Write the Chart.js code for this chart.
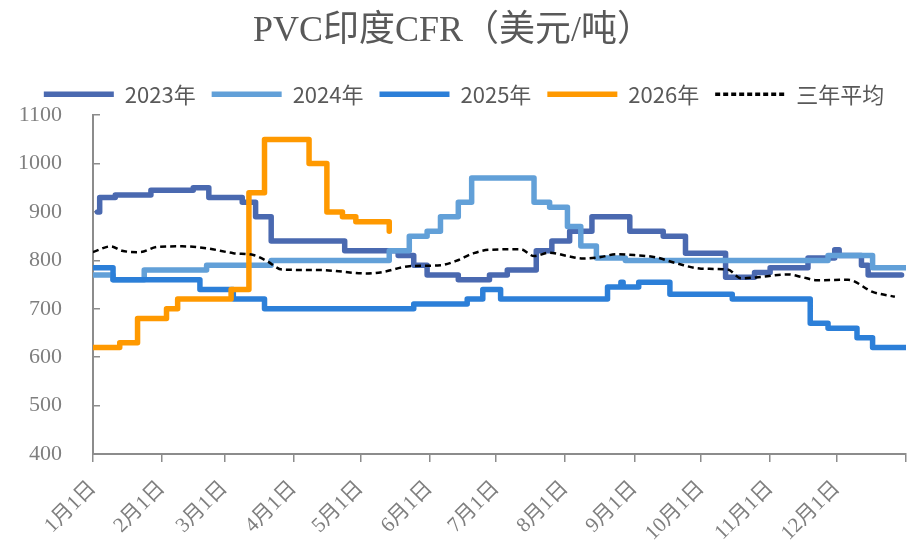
<!DOCTYPE html>
<html>
<head>
<meta charset="utf-8">
<script src="https://cdn.jsdelivr.net/npm/chart.js@4/dist/chart.umd.min.js"></script>
<style>
  html, body { margin: 0; padding: 0; background: #fff; }
</style>
</head>
<body>
<canvas id="pvcChart" width="907" height="543"></canvas>
<script>
// x axis = day of year, ticks on the 1st of each month
const monthTicks = [0, 31, 59, 90, 120, 151, 181, 212, 243, 273, 304, 334, 365];
const monthLabels = ["1月1日", "2月1日", "3月1日", "4月1日", "5月1日", "6月1日",
  "7月1日", "8月1日", "9月1日", "10月1日", "11月1日", "12月1日", ""];

// price change points (day, USD/t)
const days2023 = [2, 3, 10, 26, 45, 52, 67, 73, 80, 113, 137, 144, 150, 164, 178, 186, 199, 206, 214, 224, 241, 256, 266, 284, 297, 304, 321, 333, 335, 345, 348, 363];
const vals2023 = [900, 930, 935, 945, 950, 930, 920, 890, 840, 820, 810, 790, 770, 760, 770, 780, 820, 840, 860, 890, 860, 850, 815, 765, 775, 785, 805, 822, 810, 790, 770, 770];

const days2024 = [0, 9, 23, 51, 80, 133, 142, 150, 156, 164, 170, 198, 205, 213, 219, 226, 239, 330, 350, 365];
const vals2024 = [770, 760, 780, 790, 800, 820, 850, 860, 890, 920, 970, 920, 910, 870, 830, 805, 800, 810, 785, 785];

const days2025 = [0, 9, 48, 63, 77, 144, 168, 175, 183, 231, 237, 238, 245, 259, 287, 322, 330, 343, 350, 365];
const vals2025 = [785, 760, 740, 720, 700, 710, 720, 740, 720, 745, 755, 745, 755, 730, 720, 670, 660, 640, 620, 620];

const days2026 = [0, 12, 20, 33, 38, 62, 70, 77, 97, 105, 112, 118, 133];
const vals2026 = [620, 630, 680, 700, 720, 740, 940, 1050, 1000, 900, 890, 880, 860];

const daysAvg = [0, 8, 13, 21, 29, 40, 51, 63, 72, 78, 85, 102, 123, 130, 142, 156, 163, 171, 178, 192, 198, 205, 213, 220, 228, 235, 243, 253, 262, 273, 285, 291, 300, 312, 318, 325, 339, 350, 360];
const valsAvg = [817, 829, 820, 817, 828, 829, 825, 815, 811, 799, 781, 780, 773, 776, 788, 790, 799, 815, 822, 823, 809, 816, 809, 804, 807, 813, 811, 806, 794, 783, 781, 763, 766, 771, 766, 759, 760, 735, 725];

const toPoints = (days, vals) => days.map((d, i) => ({ x: d, y: vals[i] }));

function stepLine(label, days, vals, color, order) {
  return {
    label: label,
    data: toPoints(days, vals),
    borderColor: color,
    backgroundColor: color,
    borderWidth: 5.5,
    borderCapStyle: "round",
    borderJoinStyle: "round",
    stepped: true,
    pointRadius: 0,
    order: order,
  };
}

const gray = "#8c8c8c";
const textGray = "#7f7f7f";

const pvcData = {
  datasets: [
    stepLine("2023年", days2023, vals2023, "#4a69b0", 4),
    stepLine("2024年", days2024, vals2024, "#62a0d8", 3),
    stepLine("2025年", days2025, vals2025, "#2c7fd8", 2),
    stepLine("2026年", days2026, vals2026, "#ff9900", 1),
    {
      label: "三年平均",
      data: toPoints(daysAvg, valsAvg),
      borderColor: "#000000",
      backgroundColor: "#000000",
      borderWidth: 2.5,
      borderDash: [6, 4],
      cubicInterpolationMode: "monotone",
      pointRadius: 0,
      order: 0,
    },
  ],
};

// nudge the legend a bit to the right like the original
const legendShift = {
  id: "legendShift",
  afterLayout(chart) {
    chart.legend.left += 11;
    chart.legend.right += 11;
  },
};

const pvcConfig = {
  type: "line",
  data: pvcData,
  plugins: [legendShift],
  options: {
    responsive: false,
    animation: false,
    layout: { padding: { left: 0, right: 1, top: 0, bottom: 0 } },
    plugins: {
      title: {
        display: true,
        text: "PVC印度CFR（美元/吨）",
        color: "#595959",
        font: { family: "'Liberation Serif', 'Noto Sans CJK SC'", size: 36, weight: "normal" },
        padding: { top: 10, bottom: 14 },
      },
      legend: {
        labels: {
          usePointStyle: true,
          pointStyle: "line",
          pointStyleWidth: 70,
          color: "#595959",
          font: { family: "'Noto Sans CJK SC'", size: 22 },
          padding: 16,
          sort: (a, b) => a.datasetIndex - b.datasetIndex,
          generateLabels: (chart) => {
            const items = Chart.defaults.plugins.legend.labels.generateLabels(chart);
            items.forEach((item) => {
              if (item.datasetIndex === 4) {
                item.lineWidth = 3.5;
                item.lineDash = [5, 3];
              }
            });
            return items;
          },
        },
      },
      tooltip: { enabled: false },
    },
    scales: {
      x: {
        type: "linear",
        min: 0,
        max: 365,
        afterBuildTicks: (scale) => {
          scale.ticks = monthTicks.map((v) => ({ value: v }));
        },
        afterFit: (scale) => {
          scale.height = 89;
          scale.paddingRight = 0;
          scale.paddingLeft = 0;
        },
        ticks: {
          autoSkip: false,
          minRotation: 45,
          maxRotation: 45,
          padding: 14,
          color: textGray,
          font: { family: "'Liberation Serif', 'Noto Sans CJK SC'", size: 21 },
          callback: (value, index) => monthLabels[index],
        },
        grid: { drawOnChartArea: false, tickLength: 8, color: gray, lineWidth: 1.5 },
        border: { color: gray, width: 2 },
      },
      y: {
        min: 400,
        max: 1100,
        afterFit: (scale) => { scale.width = 93; },
        ticks: {
          stepSize: 100,
          padding: 38,
          color: textGray,
          font: { family: "'Liberation Serif'", size: 22 },
          callback: (value) => String(value),
        },
        grid: { drawOnChartArea: false, tickLength: -7, color: gray, lineWidth: 1.5 },
        border: { color: gray, width: 2 },
      },
    },
  },
};

const pvcChart = new Chart(document.getElementById("pvcChart"), pvcConfig);
</script>
</body>
</html>
